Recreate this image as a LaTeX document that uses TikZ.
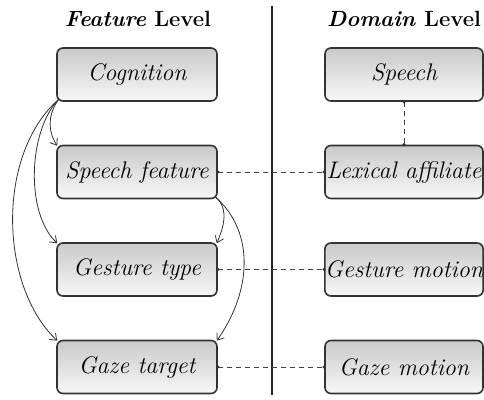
\documentclass[tikz,border=0pt]{standalone}
\usepackage{fontspec}
\usetikzlibrary{arrows.meta}
\begin{document}
\begin{tikzpicture}[x=1pt,y=1pt,
  box/.style={draw=black!80, line width=1.6pt, rounded corners=6pt,
    top color=black!21, bottom color=black!3,
    minimum width=160pt, minimum height=53pt, inner sep=0pt,
    font=\fontsize{24}{28}\selectfont\itshape},
  title/.style={font=\fontsize{22}{26}\selectfont\bfseries},
  flow/.style={draw=black!80, line width=0.8pt, -{Straight Barb[length=6pt,width=9pt]}},
  link/.style={draw=black!75, line width=0.7pt, dash pattern=on 5pt off 4pt},
  pin/.style={circle, fill=black!80, inner sep=0pt, minimum size=3.5pt}
]
\useasboundingbox (0,0) rectangle (484,-399);

% column titles and divider
\node[title] (tf) at (138,-19) {\textit{Feature} Level};
\node[title] (td) at (404,-19) {\textit{Domain} Level};
\coordinate (dtop) at (272,-6);
\coordinate (dbot) at (272,-395);
\draw[black!85, line width=1.3pt] (dtop) -- (dbot);

% feature level
\node[box] (cog) at (137,-74.5) {Cognition};
\node[box] (spf) at (137,-172) {Speech feature};
\node[box] (gst) at (137,-269.5) {Gesture type};
\node[box] (gzt) at (137,-367) {Gaze target};

% domain level
\node[box, minimum width=158pt] (sp)  at (404,-74.5) {Speech};
\node[box, minimum width=158pt] (lex) at (404,-172) {Lexical affiliate};
\node[box, minimum width=158pt] (gm)  at (404,-269.5) {Gesture motion};
\node[box, minimum width=158pt] (gzm) at (404,-367) {Gaze motion};

% influence arrows
\coordinate (c0) at ([shift={(2,2)}]cog.south west);
\coordinate (s0) at ([shift={(-2,2)}]spf.south east);
\draw[flow] (c0) .. controls +(-12,-18) and +(-8,12) .. ([shift={(1,-1)}]spf.north west);
\draw[flow] (c0) .. controls +(-30,-32) and +(-32,30) .. ([shift={(1,-1)}]gst.north west);
\draw[flow] (c0) .. controls +(-62,-55) and +(-58,55) .. ([shift={(1,-1)}]gzt.north west);
\draw[flow] (s0) .. controls +(14,-12) and +(6,14) .. ([shift={(-1,-1)}]gst.north east);
\draw[flow] (s0) .. controls +(40,-36) and +(34,48) .. ([shift={(-1,-1)}]gzt.north east);

% correspondences
\draw[link] (spf.east) -- (lex.west);
\draw[link] (gst.east) -- (gm.west);
\draw[link] (gzt.east) -- (gzm.west);
\draw[link] (sp.south) -- (lex.north);
\foreach \p in {spf.east, lex.west, gst.east, gm.west, gzt.east, gzm.west, sp.south, lex.north}
  \node[pin] at (\p) {};
\end{tikzpicture}
\end{document}
